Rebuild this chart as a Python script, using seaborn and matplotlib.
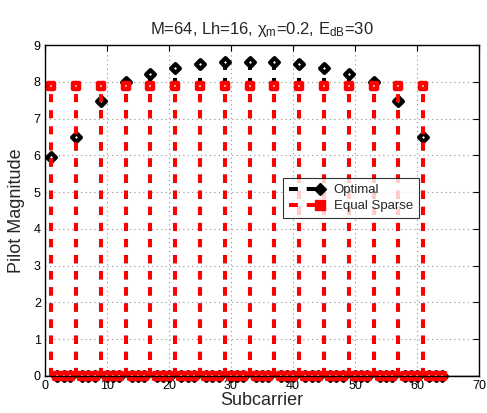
import numpy as np
import pandas as pd
import matplotlib
matplotlib.use("Agg")
import matplotlib.pyplot as plt
import seaborn as sns
from matplotlib.lines import Line2D
from matplotlib.legend_handler import HandlerBase

# ---- data ----
subcarriers = list(range(1, 65))
pilot_positions = [1, 5, 9, 13, 17, 21, 25, 29, 33, 37, 41, 45, 49, 53, 57, 61]
optimal_pilots = [5.95, 6.50, 7.48, 8.00, 8.20, 8.37, 8.49, 8.53,
                  8.55, 8.53, 8.49, 8.37, 8.20, 8.00, 7.48, 6.50]
equal_sparse_value = 7.88
series_names = ["Optimal", "Equal Sparse"]
title_text = r"M=64, Lh=16, $\chi_{m}$=0.2, E$_{dB}$=30"
xlabel_text = "Subcarrier"
ylabel_text = "Pilot Magnitude"
xticks = [0, 10, 20, 30, 40, 50, 60, 70]
yticks = [0, 1, 2, 3, 4, 5, 6, 7, 8, 9]

opt_vals = [0.0] * len(subcarriers)
eq_vals = [0.0] * len(subcarriers)
for p, v in zip(pilot_positions, optimal_pilots):
    opt_vals[subcarriers.index(p)] = v
    eq_vals[subcarriers.index(p)] = equal_sparse_value

df = pd.DataFrame({"Subcarrier": subcarriers * 2,
                   "Value": opt_vals + eq_vals,
                   "Series": [series_names[0]] * 64 + [series_names[1]] * 64})

sns.set_theme(style="white")
plt.rcParams["font.family"] = ["Liberation Sans", "DejaVu Sans"]
plt.rcParams["mathtext.fontset"] = "custom"
plt.rcParams["mathtext.rm"] = "Liberation Sans"
plt.rcParams["mathtext.it"] = "Liberation Sans"

fig = plt.figure(figsize=(4.87, 4.13), dpi=100)
ax = fig.add_axes([45 / 487, 1 - 376 / 413, 434 / 487, 331 / 413])

dash = (0, (2, 2))
lw = 2.9

# stems
d_opt = df[df.Series == series_names[0]]
d_eq = df[df.Series == series_names[1]]
ax.vlines(d_opt.Subcarrier, 0, d_opt.Value, colors="black", linestyles=dash,
          linewidth=lw, zorder=3)
ax.axhline(0, color="black", lw=1, zorder=2.5)
sns.scatterplot(data=d_opt, x="Subcarrier", y="Value", marker="D", s=20,
                facecolor="white", edgecolor="black", linewidth=3.0,
                ax=ax, zorder=4, clip_on=False, legend=False)
ax.vlines(d_eq.Subcarrier, 0, d_eq.Value, colors="red", linestyles=dash,
          linewidth=lw, zorder=5)
sns.scatterplot(data=d_eq, x="Subcarrier", y="Value", marker="s", s=15,
                facecolor="white", edgecolor="red", linewidth=3.2,
                ax=ax, zorder=6, clip_on=False, legend=False)

ax.set_xlim(0, 70)
ax.set_ylim(0, 9)
ax.set_xticks(xticks)
ax.set_yticks(yticks)
ax.tick_params(direction="in", length=4, width=0.8, top=True, right=True,
               labelsize=9, pad=3, colors="black")
ax.grid(True, linestyle=(0, (1, 3)), color="#909090", linewidth=0.8)
ax.set_axisbelow(True)
for s in ax.spines.values():
    s.set_color("black")
    s.set_linewidth(1.0)
    s.set_zorder(7)

ax.set_title(title_text, fontsize=12, pad=8)
ax.set_xlabel(xlabel_text, fontsize=13, labelpad=0)
ax.set_ylabel(ylabel_text, fontsize=13, labelpad=6)


class StemHandler(HandlerBase):
    def create_artists(self, legend, orig, xdescent, ydescent, width, height,
                       fontsize, trans):
        y = height / 2 - ydescent
        x0 = -xdescent
        xm = x0 + width - 4
        ln = Line2D([x0, xm], [y, y], color=orig.get_color(),
                    linestyle=(0, (2.2, 2.2)), linewidth=lw, transform=trans)
        mk = Line2D([xm], [y], linestyle="none",
                    marker=orig.get_marker(), markersize=orig.get_markersize(),
                    markerfacecolor=orig.get_markerfacecolor(),
                    markeredgecolor=orig.get_markeredgecolor(),
                    markeredgewidth=orig.get_markeredgewidth(), transform=trans)
        return [ln, mk]


h1 = Line2D([], [], color="black", marker="D", markersize=6.5,
            markerfacecolor="black", markeredgecolor="black", markeredgewidth=1)
h2 = Line2D([], [], color="red", marker="s", markersize=7.5,
            markerfacecolor="red", markeredgecolor="red", markeredgewidth=1)
leg = ax.legend([h1, h2], series_names, handler_map={Line2D: StemHandler()},
                loc="upper left", bbox_to_anchor=(0.548, 0.598),
                borderaxespad=0.0,
                fontsize=9.5, frameon=True, fancybox=False, handlelength=2.8,
                borderpad=0.45, labelspacing=0.3, handletextpad=0.6)
leg.get_frame().set_edgecolor("black")
leg.get_frame().set_linewidth(0.8)
leg.set_zorder(10)

fig.savefig("out.png", dpi=100)
